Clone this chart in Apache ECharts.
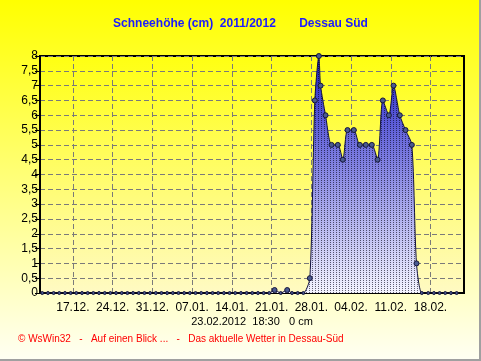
<!DOCTYPE html>
<html><head><meta charset="utf-8">
<script src="https://cdn.jsdelivr.net/npm/echarts@6/dist/echarts.min.js"></script>
<style>html,body{margin:0;padding:0;background:#fff}#c{width:481px;height:361px}</style>
</head><body><div id="c"></div>
<script>
// Data (x = days since 11.12.2011 00:00, y = snow depth in cm)
const xDays = [0.6,1.6,2.6,3.6,4.6,5.6,6.6,7.6,8.6,9.6,10.6,11.6,12.6,13.6,14.6,15.6,16.6,17.6,18.6,19.6,
  20.6,21.6,22.6,23.6,24.6,25.6,26.6,27.6,28.6,29.6,30.6,31.6,32.6,33.6,34.6,35.6,36.6,37.6,38.6,39.6,40.6,
  41.53,42.6,43.75,44.6,45.6,46.6,47.74,48.62,49.33,49.63,50.51,51.57,52.67,53.55,54.38,55.49,56.55,57.6,58.66,
  59.67,60.6,61.66,62.48,63.59,64.6,65.71,66.53,67.47,68.6,69.6,70.6,71.6,72.6,73.6,74.6];
const snowDepth = [0,0,0,0,0,0,0,0,0,0,0,0,0,0,0,0,0,0,0,0,
  0,0,0,0,0,0,0,0,0,0,0,0,0,0,0,0,0,0,0,0,0,
  0.1,0,0.1,0,0,0,0.5,6.5,8,7,6,5,5,4.5,5.5,5.5,5,5,5,
  4.5,6.5,6,7,6,5.5,5,1,0,0,0,0,0,0,0];
const xTickDays = [6,13,20,27,34,41,48,55,62,69];
const xTickLabels = ['17.12.','24.12.','31.12.','07.01.','14.01.','21.01.','28.01.','04.02.','11.02.','18.02.'];
const yTickLabels = ['0','0,5','1','1,5','2','2,5','3','3,5','4','4,5','5','5,5','6','6,5','7','7,5','8'];
const titleText = 'Schneehöhe (cm)  2011/2012       Dessau Süd';
const stampText = '23.02.2012  18:30   0 cm';
const footerText = '© WsWin32   -   Auf einen Blick ...   -   Das aktuelle Wetter in Dessau-Süd';

const pts = xDays.map((d,i)=>[d, snowDepth[i]]);
const chart = echarts.init(document.getElementById('c'), null, {renderer:'canvas'});
const FONT = 'Liberation Sans, Arial, sans-serif';
chart.setOption({
  animation:false,
  backgroundColor: new echarts.graphic.LinearGradient(0,0,0,1,[
    {offset:0,color:'#ffff00'},{offset:1,color:'#fffff4'}]),
  title:{text:titleText,left:'center',top:18,padding:0,
    textStyle:{fontFamily:FONT,fontSize:12,fontWeight:'bold',color:'#1c1cff'}},
  grid:{left:40,right:17,top:56,bottom:68,show:true,borderColor:'#000',borderWidth:2,
    backgroundColor:new echarts.graphic.LinearGradient(0,0,0,1,[
      {offset:0,color:'#ffff10'},{offset:1,color:'#fffac4'}])},
  xAxis:{type:'value',min:0.2,max:74.9,
    axisLine:{show:true,lineStyle:{color:'#000',width:2}},
    axisTick:{show:false,customValues:xTickDays},
    axisLabel:{customValues:xTickDays,margin:9,fontFamily:FONT,fontSize:12,color:'#000',
      formatter:v=>xTickLabels[xTickDays.indexOf(Math.round(v))]||''},
    splitLine:{show:true,lineStyle:{color:'#7a7a7a',type:[5,3],width:1}}},
  yAxis:{type:'value',min:0,max:8,interval:0.5,
    axisLine:{show:true,lineStyle:{color:'#000',width:2}},
    axisTick:{show:true,length:5,lineStyle:{color:'#000'}},
    axisLabel:{margin:2,fontFamily:FONT,fontSize:12,color:'#000',
      formatter:v=>yTickLabels[Math.round(v/0.5)]},
    splitLine:{show:true,lineStyle:{color:'#7a7a7a',type:[5,3],width:1}}},
  series:[{type:'line',data:pts,smooth:0.25,symbol:'circle',
    symbolSize:v=>v[1]===0?3:5,
    lineStyle:{color:'#101040',width:1},
    itemStyle:{color:'#4a5a90',borderColor:'#15153a',borderWidth:1,
      decal:{symbol:'rect',symbolSize:1,dashArrayX:[1,2],dashArrayY:[1,1],color:'rgba(0,0,20,0.6)'}},
    areaStyle:{opacity:1,color:new echarts.graphic.LinearGradient(0,0,0,1,[
      {offset:0,color:'#2020c8'},{offset:1,color:'#f4f4ff'}])}}],
  graphic:[
    {type:'text',x:252,y:316,style:{text:stampText,font:'11px '+FONT,fill:'#000',textAlign:'center'}},
    {type:'text',x:18,y:334,style:{text:footerText,font:'10px '+FONT,fill:'#ff0000'}},
    {type:'polyline',shape:{points:[[480,0],[480,360],[0,360]]},style:{stroke:'#a0a0a0',lineWidth:2,fill:null}}
  ]
});
</script></body></html>
